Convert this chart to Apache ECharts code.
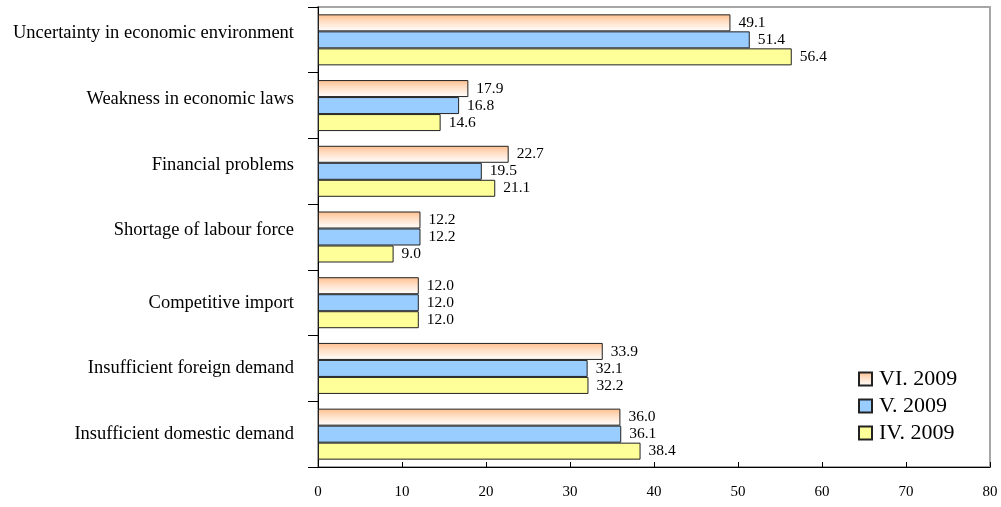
<!DOCTYPE html>
<html>
<head>
<meta charset="utf-8">
<style>
  html, body { margin: 0; padding: 0; background: #fff; }
  #chart { width: 1001px; height: 507px; }
</style>
<script src="https://cdn.jsdelivr.net/npm/echarts@6/dist/echarts.min.js"></script>
</head>
<body>
<div id="chart"></div>
<script>
// Categories listed bottom to top
const categories = [
  'Insufficient domestic demand',
  'Insufficient foreign demand',
  'Competitive import',
  'Shortage of labour force',
  'Financial problems',
  'Weakness in economic laws',
  'Uncertainty in economic environment'
];

const seriesNames = ['VI. 2009', 'V. 2009', 'IV. 2009'];

const valuesVI = [36.0, 33.9, 12.0, 12.2, 22.7, 17.9, 49.1];
const valuesV  = [36.1, 32.1, 12.0, 12.2, 19.5, 16.8, 51.4];
const valuesIV = [38.4, 32.2, 12.0,  9.0, 21.1, 14.6, 56.4];

const xTicks = { min: 0, max: 80, interval: 10 };

const FONT = "'Liberation Serif', 'Times New Roman', serif";

const peach = new echarts.graphic.LinearGradient(0, 0, 0, 1, [
  { offset: 0, color: '#ffbe8c' },
  { offset: 0.45, color: '#ffe0c8' },
  { offset: 1, color: '#ffffff' }
]);

function barSeries(name, data, color) {
  return {
    name: name,
    type: 'bar',
    data: data,
    barWidth: 17,
    barGap: '0%',
    itemStyle: { color: color, borderColor: '#222', borderWidth: 1 },
    label: {
      show: true,
      position: 'right',
      distance: 8,
      color: '#000',
      fontFamily: FONT,
      fontSize: 15.5,
      formatter: p => p.value.toFixed(1)
    }
  };
}

const chart = echarts.init(document.getElementById('chart'), null, { renderer: 'canvas' });
chart.setOption({
  animation: false,
  backgroundColor: '#fff',
  grid: {
    left: 318, right: 11, top: 7, bottom: 40,
    show: true, borderColor: '#a6a6a6', borderWidth: 2, backgroundColor: 'transparent'
  },
  legend: {
    orient: 'vertical',
    left: 853,
    top: 363,
    icon: 'rect',
    itemWidth: 13,
    itemHeight: 13,
    itemGap: 5,
    data: seriesNames,
    textStyle: { fontFamily: FONT, fontSize: 22, color: '#000', padding: [0, 0, 0, 2] }
  },
  xAxis: {
    type: 'value',
    min: xTicks.min,
    max: xTicks.max,
    interval: xTicks.interval,
    splitLine: { show: false },
    axisLine: { show: true, lineStyle: { color: '#000', width: 1 } },
    axisTick: { show: true, inside: true, length: 5, lineStyle: { color: '#000' } },
    axisLabel: { color: '#000', fontFamily: FONT, fontSize: 15, margin: 18 }
  },
  yAxis: {
    type: 'category',
    data: categories,
    axisLine: { show: true, lineStyle: { color: '#000', width: 1 } },
    axisTick: { show: true, length: 10, lineStyle: { color: '#000' } },
    axisLabel: {
      color: '#000', fontFamily: FONT, fontSize: 18.5, margin: 24,
      // the upper four labels sit a little above their band centre
      formatter: (v, i) => (i >= 3 ? '{up|' + v + '}' : v),
      rich: {
        up: { color: '#000', fontFamily: FONT, fontSize: 18.5, padding: [0, 0, 13, 0] }
      }
    }
  },
  series: [
    barSeries(seriesNames[0], valuesVI, peach),
    barSeries(seriesNames[1], valuesV, '#99ccff'),
    barSeries(seriesNames[2], valuesIV, '#ffff99')
  ]
});
</script>
</body>
</html>
